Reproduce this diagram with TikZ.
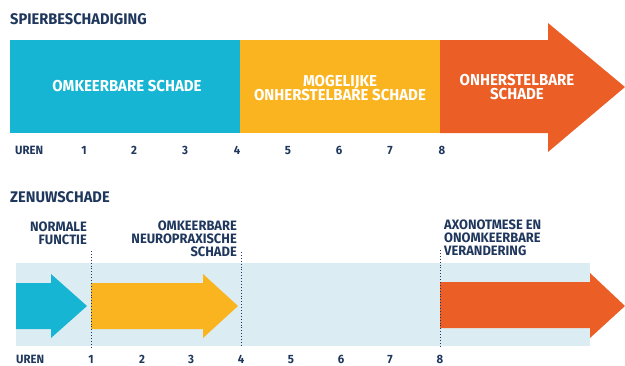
\documentclass[tikz,border=0pt]{standalone}
\usepackage{fontspec}
\setmainfont{Fira Sans}[FakeStretch=0.95]
\definecolor{navy}{RGB}{31,55,92}
\definecolor{cblue}{RGB}{22,181,211}
\definecolor{cyellow}{RGB}{249,180,31}
\definecolor{corange}{RGB}{235,94,38}
\definecolor{cband}{RGB}{219,237,242}
\tikzset{
  hdr/.style={font=\bfseries\fontsize{15.4}{16}\selectfont, text=navy, anchor=base west, inner sep=0pt},
  lbl/.style={font=\bfseries\fontsize{15.8}{14.5}\selectfont, text=white, align=center, inner sep=0pt},
  note/.style={font=\bfseries\fontsize{13.6}{13}\selectfont, text=navy, inner sep=0pt},
  hour/.style={font=\bfseries\fontsize{12}{12}\selectfont, text=navy, anchor=base, inner sep=0pt},
  divider/.style={navy, dotted, line width=0.9pt},
}
\begin{document}
\begin{tikzpicture}[x=1pt,y=-1pt]
    \useasboundingbox (0,0) rectangle (625,365);
    % spierbeschadiging
    \node[hdr] (spier) at (10,24) {SPIERBESCHADIGING};
    \fill[cblue] (10,40) rectangle (240,133);
    \fill[cyellow] (240,40) rectangle (440,133);
    \fill[corange] (440,40) -- (548,40) -- (548,23) -- (625,87) -- (548,152) -- (548,133) -- (440,133) -- cycle;
    \node[lbl] (omk) at (127,86) {OMKEERBARE SCHADE};
    \node[lbl] (mog) at (340,88) {MOGELIJKE\\ONHERSTELBARE SCHADE};
    \node[lbl] (onh) at (517,87) {ONHERSTELBARE\\SCHADE};
    \node[hour, anchor=base west] (uren1) at (15,154) {UREN};
    \foreach \h/\x in {1/84,2/134,3/185,4/237,5/288,6/339,7/390,8/442}
        \node[hour] (t\h) at (\x,154) {\h};
    % zenuwschade
    \node[hdr] (zenuw) at (10,202) {ZENUWSCHADE};
    \fill[cband] (16,263) rectangle (590,346);
    \fill[cblue] (16,283) -- (51,283) -- (51,274) -- (87,306) -- (51,338) -- (51,329) -- (16,329) -- cycle;
    \fill[cyellow] (91,283) -- (203,283) -- (203,274) -- (238,306) -- (203,338) -- (203,329) -- (91,329) -- cycle;
    \fill[corange] (440,282) -- (590,282) -- (590,273) -- (625,306) -- (590,338) -- (590,328) -- (440,328) -- cycle;
    \draw[divider] (91,251) -- (91,347);
    \draw[divider] (241,252) -- (241,347);
    \draw[divider] (440,250) -- (440,347);
    \node[note, align=right, anchor=east] (norm) at (87,233) {NORMALE\\FUNCTIE};
    \node[note, align=right, anchor=east] (neuro) at (237,239) {OMKEERBARE\\NEUROPRAXISCHE\\SCHADE};
    \node[note, align=left, anchor=west] (axo) at (444,238) {AXONOTMESE EN\\ONOMKEERBARE\\VERANDERING};
    \node[hour, anchor=base west] (uren2) at (16,363) {UREN};
    \foreach \h/\x in {1/91,2/142,3/191,4/241,5/291,6/341,7/390,8/440}
        \node[hour] (b\h) at (\x,363) {\h};
\end{tikzpicture}
\end{document}
